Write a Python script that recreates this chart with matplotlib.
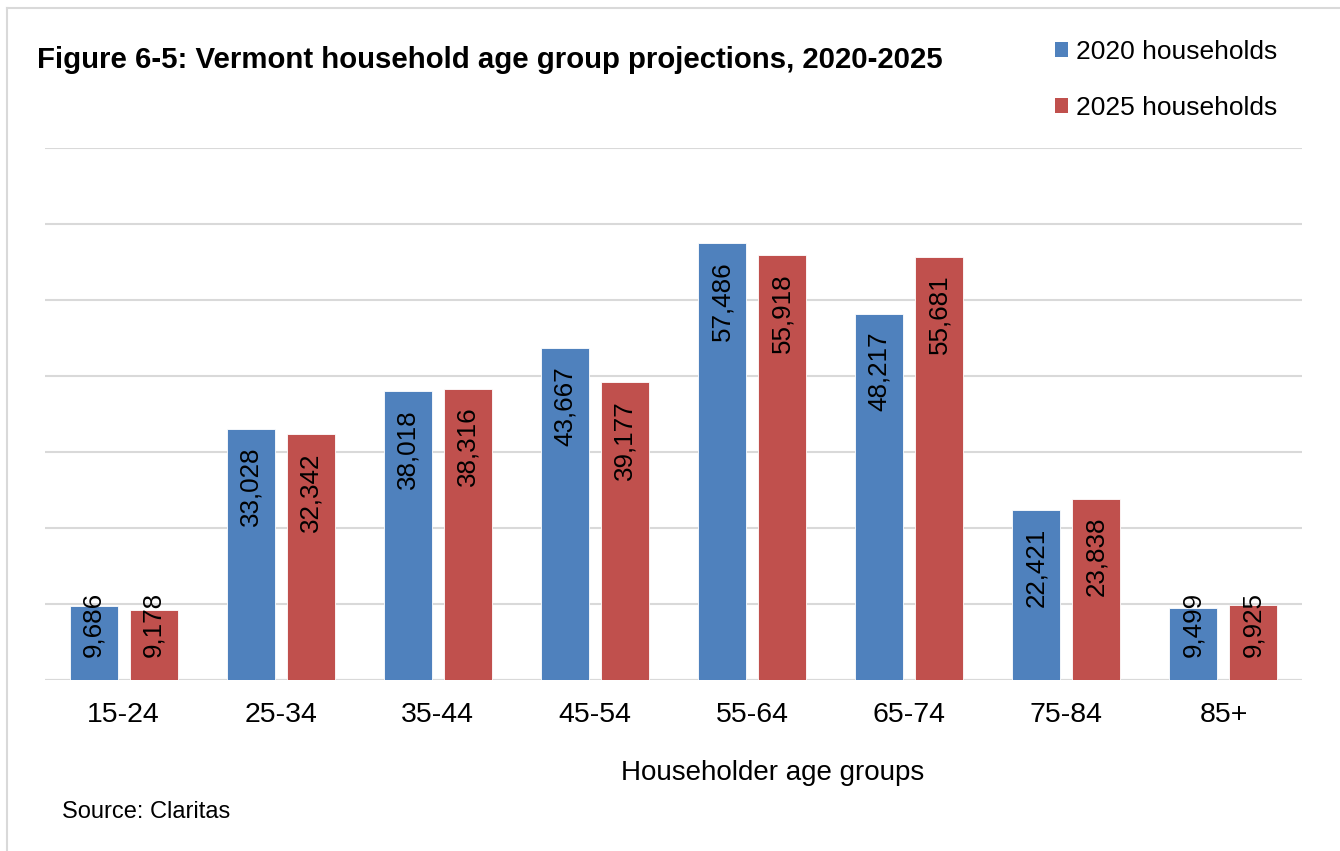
import matplotlib
matplotlib.use("Agg")
import matplotlib.pyplot as plt
from matplotlib.lines import Line2D
from matplotlib.patches import Patch
import numpy as np

plt.rcParams['font.family'] = ['Liberation Sans', 'DejaVu Sans']

categories = ["15-24", "25-34", "35-44", "45-54", "55-64", "65-74", "75-84", "85+"]
hh_2020 = [9686, 33028, 38018, 43667, 57486, 48217, 22421, 9499]
hh_2025 = [9178, 32342, 38316, 39177, 55918, 55681, 23838, 9925]
series_names = ["2020 households", "2025 households"]
colors = ["#4F81BD", "#C0504D"]

W, H = 1340, 851
fig = plt.figure(figsize=(W / 100, H / 100), dpi=100)
ax = fig.add_axes([45 / W, 1 - 680 / H, (1302 - 45) / W, (680 - 148) / H])

x = np.arange(len(categories))
bw = 0.306
off = 0.191
for vals, c, sgn, name in zip([hh_2020, hh_2025], colors, [-1, 1], series_names):
    ax.bar(x + sgn * off, vals, width=bw, color=c, edgecolor="white",
           linewidth=0.6, zorder=3, label=name)
    for xi, v in zip(x + sgn * off, vals):
        anchor = max(v, 14000)
        ax.annotate(f"{v:,}", xy=(xi, anchor), xytext=(0, -18 * 0.72),
                    textcoords="offset points", rotation=90, ha="center",
                    va="top", fontsize=18.7, color="black", zorder=4)

ax.set_xlim(-0.5, len(categories) - 0.5)
ax.set_ylim(0, 70000)
ax.set_yticks(np.arange(0, 70001, 10000))
ax.yaxis.grid(True, color="#D9D9D9", linewidth=1.5, zorder=0)
ax.tick_params(axis="y", left=False, labelleft=False)
ax.tick_params(axis="x", length=0, labelsize=20.5, pad=16)
ax.set_xticks(x)
ax.set_xticklabels(categories)
for s in ax.spines.values():
    s.set_visible(False)
ax.axhline(0, color="#D9D9D9", linewidth=1.5, zorder=2)

fig.text(773 / W, 1 - 773 / H, "Householder age groups", ha="center",
         va="center", fontsize=20)
fig.text(62 / W, 1 - 812 / H, "Source: Claritas", ha="left", va="center",
         fontsize=17)
fig.text(37 / W, 1 - 60 / H, "Figure 6-5: Vermont household age group projections, 2020-2025",
         ha="left", va="center", fontsize=21.2, fontweight="bold")

handles = [Patch(facecolor=c, edgecolor="none") for c in colors]
fig.legend(handles, series_names, loc="upper left",
           bbox_to_anchor=(1031 / W, 1 - 16 / H), frameon=False,
           fontsize=19, handlelength=0.5, handleheight=0.5,
           handletextpad=0.3, labelspacing=1.22)

# Border lines (top and left)
fig.add_artist(Line2D([7 / W, 1], [1 - 8 / H, 1 - 8 / H], color="#D9D9D9",
                      linewidth=1.5, transform=fig.transFigure))
fig.add_artist(Line2D([7 / W, 7 / W], [0, 1 - 8 / H], color="#D9D9D9",
                      linewidth=1.5, transform=fig.transFigure))

fig.savefig("out.png", dpi=100)
